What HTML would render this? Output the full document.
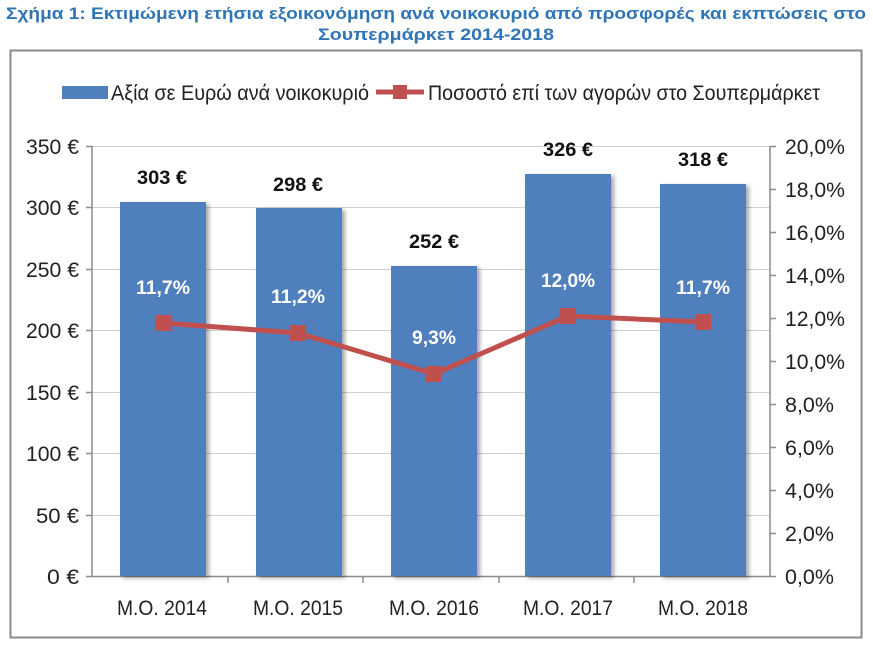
<!DOCTYPE html>
<html><head><meta charset="utf-8"><style>
body{margin:0;background:#fff;}
svg{display:block;font-family:"Liberation Sans",sans-serif;}
</style></head><body>
<svg width="873" height="647" viewBox="0 0 873 647" xmlns="http://www.w3.org/2000/svg">
<defs><filter id="sh" x="-10%" y="-5%" width="130%" height="110%"><feDropShadow dx="3" dy="2" stdDeviation="2" flood-color="#000" flood-opacity="0.35"/></filter></defs>
<text x="436" y="19" text-anchor="middle" font-size="17" font-weight="bold" fill="#2F75B5" textLength="860" lengthAdjust="spacingAndGlyphs">Σχήμα 1: Εκτιμώμενη ετήσια εξοικονόμηση ανά νοικοκυριό από προσφορές και εκπτώσεις στο</text>
<text x="436" y="40" text-anchor="middle" font-size="17" font-weight="bold" fill="#2F75B5" textLength="236" lengthAdjust="spacingAndGlyphs">Σουπερμάρκετ 2014-2018</text>
<rect x="10.5" y="50.5" width="851" height="587" fill="#fff" stroke="#8c8c8c" stroke-width="2"/>
<rect x="62" y="86" width="46" height="13" fill="#4F7FBD"/>
<text x="111" y="100" font-size="21" fill="#222" textLength="258" lengthAdjust="spacingAndGlyphs">Αξία σε Ευρώ ανά νοικοκυριό</text>
<line x1="376" y1="92" x2="424" y2="92" stroke="#C0504D" stroke-width="5"/>
<rect x="393" y="85" width="14" height="14" fill="#C0504D"/>
<text x="428" y="100" font-size="21" fill="#222" textLength="392" lengthAdjust="spacingAndGlyphs">Ποσοστό επί των αγορών στο Σουπερμάρκετ</text>
<g stroke="#d0d0d0" stroke-width="1">
<line x1="92" y1="146.5" x2="770" y2="146.5"/><line x1="92" y1="207.5" x2="770" y2="207.5"/><line x1="92" y1="269.5" x2="770" y2="269.5"/><line x1="92" y1="330.5" x2="770" y2="330.5"/><line x1="92" y1="392.5" x2="770" y2="392.5"/><line x1="92" y1="453.5" x2="770" y2="453.5"/><line x1="92" y1="515.5" x2="770" y2="515.5"/>
</g>
<g stroke="#8c8c8c" stroke-width="1.5">
<line x1="92" y1="146" x2="92" y2="577"/><line x1="770" y1="146" x2="770" y2="577"/><line x1="92" y1="576.5" x2="770" y2="576.5"/>
<line x1="86" y1="146.5" x2="92" y2="146.5"/><line x1="86" y1="207.5" x2="92" y2="207.5"/><line x1="86" y1="269.5" x2="92" y2="269.5"/><line x1="86" y1="330.5" x2="92" y2="330.5"/><line x1="86" y1="392.5" x2="92" y2="392.5"/><line x1="86" y1="453.5" x2="92" y2="453.5"/><line x1="86" y1="515.5" x2="92" y2="515.5"/><line x1="86" y1="576.5" x2="92" y2="576.5"/>
<line x1="770" y1="146.5" x2="776" y2="146.5"/><line x1="770" y1="189.5" x2="776" y2="189.5"/><line x1="770" y1="232.5" x2="776" y2="232.5"/><line x1="770" y1="275.5" x2="776" y2="275.5"/><line x1="770" y1="318.5" x2="776" y2="318.5"/><line x1="770" y1="361.5" x2="776" y2="361.5"/><line x1="770" y1="404.5" x2="776" y2="404.5"/><line x1="770" y1="447.5" x2="776" y2="447.5"/><line x1="770" y1="490.5" x2="776" y2="490.5"/><line x1="770" y1="533.5" x2="776" y2="533.5"/><line x1="770" y1="576.5" x2="776" y2="576.5"/>
<line x1="228" y1="577" x2="228" y2="583"/><line x1="363" y1="577" x2="363" y2="583"/><line x1="499" y1="577" x2="499" y2="583"/><line x1="634" y1="577" x2="634" y2="583"/>
</g>
<g fill="#4F7FBD" filter="url(#sh)">
<rect x="120" y="202" width="86" height="374"/>
<rect x="256" y="208" width="86" height="368"/>
<rect x="391" y="266" width="86" height="310"/>
<rect x="525" y="174" width="86" height="402"/>
<rect x="660" y="184" width="86" height="392"/>
</g>
<g font-size="21" fill="#222" text-anchor="end">
<text x="79" y="154" textLength="53" lengthAdjust="spacingAndGlyphs">350 €</text><text x="79" y="215" textLength="53" lengthAdjust="spacingAndGlyphs">300 €</text><text x="79" y="277" textLength="53" lengthAdjust="spacingAndGlyphs">250 €</text><text x="79" y="338" textLength="53" lengthAdjust="spacingAndGlyphs">200 €</text><text x="79" y="400" textLength="53" lengthAdjust="spacingAndGlyphs">150 €</text><text x="79" y="461" textLength="53" lengthAdjust="spacingAndGlyphs">100 €</text><text x="79" y="523" textLength="43" lengthAdjust="spacingAndGlyphs">50 €</text><text x="79" y="584" textLength="32" lengthAdjust="spacingAndGlyphs">0 €</text>
</g>
<g font-size="21" fill="#222">
<text x="785" y="154" textLength="60" lengthAdjust="spacingAndGlyphs">20,0%</text><text x="785" y="197" textLength="60" lengthAdjust="spacingAndGlyphs">18,0%</text><text x="785" y="240" textLength="60" lengthAdjust="spacingAndGlyphs">16,0%</text><text x="785" y="283" textLength="60" lengthAdjust="spacingAndGlyphs">14,0%</text><text x="785" y="326" textLength="60" lengthAdjust="spacingAndGlyphs">12,0%</text><text x="785" y="369" textLength="60" lengthAdjust="spacingAndGlyphs">10,0%</text><text x="785" y="412" textLength="49" lengthAdjust="spacingAndGlyphs">8,0%</text><text x="785" y="455" textLength="49" lengthAdjust="spacingAndGlyphs">6,0%</text><text x="785" y="498" textLength="49" lengthAdjust="spacingAndGlyphs">4,0%</text><text x="785" y="541" textLength="49" lengthAdjust="spacingAndGlyphs">2,0%</text><text x="785" y="584" textLength="49" lengthAdjust="spacingAndGlyphs">0,0%</text>
</g>
<g font-size="21" fill="#222" text-anchor="middle">
<text x="162" y="615" textLength="90" lengthAdjust="spacingAndGlyphs">M.O. 2014</text><text x="298" y="615" textLength="90" lengthAdjust="spacingAndGlyphs">M.O. 2015</text><text x="434" y="615" textLength="90" lengthAdjust="spacingAndGlyphs">M.O. 2016</text><text x="568" y="615" textLength="90" lengthAdjust="spacingAndGlyphs">M.O. 2017</text><text x="703" y="615" textLength="90" lengthAdjust="spacingAndGlyphs">M.O. 2018</text>
</g>
<g font-size="19" font-weight="bold" fill="#111" text-anchor="middle">
<text x="162" y="184" textLength="50" lengthAdjust="spacingAndGlyphs">303 €</text><text x="298" y="191" textLength="50" lengthAdjust="spacingAndGlyphs">298 €</text><text x="434" y="248" textLength="50" lengthAdjust="spacingAndGlyphs">252 €</text><text x="568" y="156" textLength="50" lengthAdjust="spacingAndGlyphs">326 €</text><text x="703" y="166" textLength="50" lengthAdjust="spacingAndGlyphs">318 €</text>
</g>
<polyline points="163,323 298,333 434,374 568,316 703,322" fill="none" stroke="#C0504D" stroke-width="5"/>
<g fill="#C0504D">
<rect x="155" y="315" width="16" height="16"/><rect x="290" y="325" width="16" height="16"/><rect x="426" y="366" width="16" height="16"/><rect x="560" y="308" width="16" height="16"/><rect x="695" y="314" width="16" height="16"/>
</g>
<g font-size="19" font-weight="bold" fill="#fff" text-anchor="middle">
<text x="163" y="294" textLength="54" lengthAdjust="spacingAndGlyphs">11,7%</text><text x="298" y="303" textLength="54" lengthAdjust="spacingAndGlyphs">11,2%</text><text x="434" y="344" textLength="44" lengthAdjust="spacingAndGlyphs">9,3%</text><text x="568" y="287" textLength="54" lengthAdjust="spacingAndGlyphs">12,0%</text><text x="703" y="294" textLength="54" lengthAdjust="spacingAndGlyphs">11,7%</text>
</g>
</svg>
</body></html>
